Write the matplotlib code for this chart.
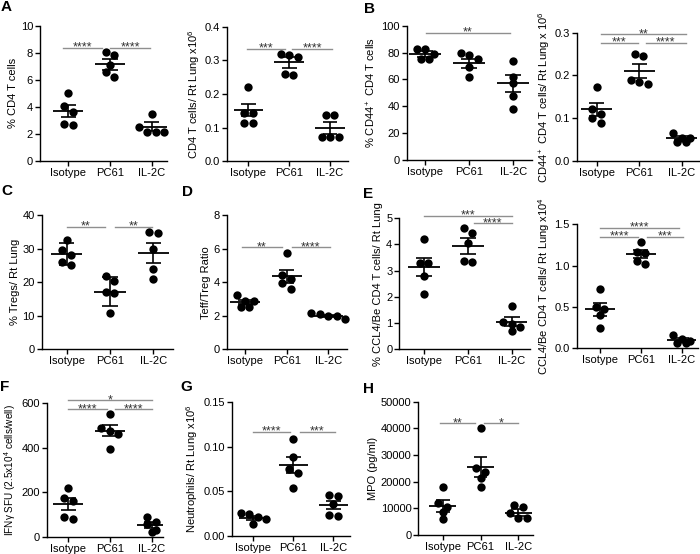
import numpy as np
import matplotlib.pyplot as plt

plt.rcParams['font.family'] = ['Liberation Sans', 'DejaVu Sans']
plt.rcParams['mathtext.fontset'] = 'custom'
plt.rcParams['mathtext.rm'] = 'Liberation Sans'
plt.rcParams['mathtext.it'] = 'Liberation Sans:italic'
plt.rcParams['mathtext.bf'] = 'Liberation Sans:bold'

groups = ['Isotype', 'PC61', 'IL-2C']

# ---- A: % CD4 T cells / CD4 T cells per lung
cd4_pct = [[5.0, 4.05, 3.65, 2.65, 2.7], [8.05, 7.85, 7.1, 6.55, 6.2], [3.5, 2.5, 2.1, 2.1, 2.1]]
cd4_pct_mean = [3.7, 7.15, 2.52]
cd4_pct_err = [0.43, 0.4, 0.35]

cd4_num = [[0.22, 0.145, 0.145, 0.115, 0.115], [0.315, 0.31, 0.318, 0.255, 0.258], [0.138, 0.138, 0.072, 0.072, 0.072]]
cd4_num_mean = [0.153, 0.294, 0.099]
cd4_num_err = [0.018, 0.017, 0.017]

# ---- B: CD44+ CD4 T cells
cd44_pct = [[83, 83, 79, 75, 75], [78.5, 79.5, 75, 69, 61.5], [74, 62, 57, 48, 38]]
cd44_pct_mean = [79.2, 72, 57]
cd44_pct_err = [2.2, 3.2, 6.5]

cd44_num = [[0.173, 0.122, 0.11, 0.09, 0.1], [0.25, 0.245, 0.19, 0.18, 0.185], [0.066, 0.053, 0.053, 0.045, 0.045]]
cd44_num_mean = [0.121, 0.21, 0.053]
cd44_num_err = [0.015, 0.016, 0.005]

# ---- C: % Tregs
treg_pct = [[32.5, 29.5, 28, 25, 26], [21.7, 20.3, 17, 16.8, 10.7], [35, 34.7, 29.8, 23.9, 20.9]]
treg_pct_mean = [28.4, 17.2, 28.7]
treg_pct_err = [3.25, 4.35, 2.9]

# ---- D: Teff/Treg ratio
ratio = [[3.23, 2.88, 2.88, 2.54, 2.54], [5.75, 4.42, 4.19, 3.93, 3.59], [2.14, 1.98, 1.81, 1.98, 2.1]]
ratio_mean = [2.8, 4.35, 2.0]
ratio_err = [0.13, 0.38, 0.05]

# ---- E: CCL4/Be CD4 T cells
ccl4_pct = [[4.2, 3.3, 3.3, 2.8, 2.1], [4.62, 4.42, 4.05, 3.35, 3.38], [1.65, 1.05, 0.95, 0.85, 0.7]]
ccl4_pct_mean = [3.13, 3.94, 1.06]
ccl4_pct_err = [0.35, 0.29, 0.17]

ccl4_num = [[0.72, 0.5, 0.47, 0.4, 0.25], [1.29, 1.15, 1.16, 1.02, 1.06], [0.16, 0.11, 0.09, 0.07, 0.07]]
ccl4_num_mean = [0.472, 1.14, 0.1]
ccl4_num_err = [0.08, 0.047, 0.025]

# ---- F: IFNg SFU
ifng = [[220, 175, 160, 80, 90], [550, 490, 475, 462, 395], [90, 68, 55, 32, 20]]
ifng_mean = [145, 476, 52]
ifng_err = [27, 25, 14]

# ---- G: neutrophils
neut = [[0.026, 0.024, 0.021, 0.019, 0.013], [0.109, 0.088, 0.075, 0.07, 0.054], [0.045, 0.046, 0.036, 0.022, 0.023]]
neut_mean = [0.02, 0.079, 0.035]
neut_err = [0.0025, 0.009, 0.0045]

# ---- H: MPO
mpo = [[18100, 11900, 10400, 8750, 5900], [40000, 25000, 23800, 21300, 17900], [11250, 10600, 8100, 6250, 6250]]
mpo_mean = [10900, 25600, 8400]
mpo_err = [2100, 3700, 1200]

W, H = 700, 554
fig = plt.figure(figsize=(7, 5.54), dpi=100)

DOT = 8.5  # dot diameter in px


def swarm(vals, ppu):
    # put near-equal values side by side, like Prism does
    order = np.argsort(vals)[::-1]
    offs = np.zeros(len(vals))
    rows = []
    for k in order:
        if rows and abs(vals[rows[-1][0]] - vals[k]) * ppu < 6.5:
            rows[-1].append(k)
        else:
            rows.append([k])
    for r in rows:
        n = len(r)
        for j, k in enumerate(r):
            offs[k] = (j - (n - 1) / 2) * DOT
    return offs


def panel(box, vals, means, errs, ymax, yticks, ylabels, ylabel, sig, lab_fs=8):
    x0, x1, yt, yb, c0, c2 = box
    ax = fig.add_axes([x0 / W, 1 - yb / H, (x1 - x0) / W, (yb - yt) / H])
    s = (c2 - c0) / 2
    ax.set_xlim(-(c0 - x0) / s, 2 + (x1 - c2) / s)
    ax.set_ylim(0, ymax)
    ppu = (yb - yt) / ymax
    for i, v in enumerate(vals):
        xs = i + swarm(np.array(v, float), ppu) / s
        ax.plot(xs, v, 'o', color='black', ms=6, mew=0, clip_on=False, zorder=3)
        m, e = means[i], errs[i]
        ax.hlines(m, i - 0.36, i + 0.36, color='black', lw=1.3, zorder=4)
        ax.vlines(i, m - e, m + e, color='black', lw=1.2, zorder=4)
        ax.hlines([m - e, m + e], i - 0.18, i + 0.18, color='black', lw=1.2, zorder=4)
    for xa, xb, y, lab in sig:
        ax.plot([xa, xb], [y, y], color='#8f8f8f', lw=1, clip_on=False)
        ax.annotate(lab, ((xa + xb) / 2, y), xytext=(0, -2.2), textcoords='offset points',
                    ha='center', va='baseline', fontsize=9, color='#333333', annotation_clip=False)
    ax.set_xticks([0, 1, 2])
    ax.set_xticklabels(groups)
    ax.set_yticks(yticks)
    ax.set_yticklabels(ylabels)
    ax.set_ylabel(ylabel, fontsize=lab_fs, labelpad=2)
    ax.tick_params(direction='out', length=3.5, width=1, labelsize=8, pad=1.5)
    for sp in ['top', 'right']:
        ax.spines[sp].set_visible(False)
    for sp in ['left', 'bottom']:
        ax.spines[sp].set_linewidth(1)
    return ax


panel((40, 167, 26, 160.7, 68.3, 151.7), cd4_pct, cd4_pct_mean, cd4_pct_err, 10,
      [0, 2, 4, 6, 8, 10], ['0', '2', '4', '6', '8', '10'], '% CD4 T cells',
      [(-0.12, 0.8, 8.4, '****'), (1.0, 1.96, 8.4, '****')])

panel((227.3, 348, 26.7, 161.3, 248.3, 330), cd4_num, cd4_num_mean, cd4_num_err, 0.4,
      [0, 0.1, 0.2, 0.3, 0.4], ['0.0', '0.1', '0.2', '0.3', '0.4'], 'CD4 T cells/ Rt Lung x10$^6$',
      [(-0.04, 0.9, 0.335, '***'), (1.08, 2.04, 0.335, '****')])

panel((406.7, 531.7, 25.7, 160, 425, 513.3), cd44_pct, cd44_pct_mean, cd44_pct_err, 100,
      [0, 20, 40, 60, 80, 100], ['0', '20', '40', '60', '80', '100'], '% CD44$^+$ CD4 T cells',
      [(0.02, 1.92, 94.8, '**')])

panel((577.3, 699.5, 32.7, 161, 596.7, 681.7), cd44_num, cd44_num_mean, cd44_num_err, 0.3,
      [0, 0.1, 0.2, 0.3], ['0.0', '0.1', '0.2', '0.3'], 'CD44$^+$ CD4 T cells/ Rt Lung x 10$^6$',
      [(0.09, 2.1, 0.296, '**'), (0.09, 0.98, 0.277, '***'), (1.16, 2.1, 0.277, '****')])

panel((41.7, 173.3, 215, 349.3, 66.7, 153.3), treg_pct, treg_pct_mean, treg_pct_err, 40,
      [0, 10, 20, 30, 40], ['0', '10', '20', '30', '40'], '% Tregs/ Rt Lung',
      [(0, 0.88, 36.5, '**'), (1.12, 1.98, 36.5, '**')])

panel((226.7, 346.7, 215, 349.3, 245, 328.3), ratio, ratio_mean, ratio_err, 8,
      [0, 2, 4, 6, 8], ['0', '2', '4', '6', '8'], 'Teff/Treg Ratio',
      [(-0.08, 0.88, 6.1, '**'), (1.12, 2.04, 6.1, '****')])

panel((399.3, 530, 218.3, 349.3, 424, 511.7), ccl4_pct, ccl4_pct_mean, ccl4_pct_err, 5,
      [0, 1, 2, 3, 4, 5], ['0', '1', '2', '3', '4', '5'], '% CCL4/Be CD4 T cells/ Rt Lung',
      [(0, 2.0, 5.1, '***'), (1.13, 2.0, 4.81, '****')])

panel((576.7, 698.3, 224.3, 348.3, 600, 681.7), ccl4_num, ccl4_num_mean, ccl4_num_err, 1.5,
      [0, 0.5, 1.0, 1.5], ['0.0', '0.5', '1.0', '1.5'], 'CCL4/Be CD4 T cells/ Rt Lung x10$^4$',
      [(0, 1.94, 1.46, '****'), (0, 0.94, 1.35, '****'), (1.14, 2.04, 1.35, '***')])

panel((46.7, 163.3, 403.3, 536.7, 68.3, 151.7), ifng, ifng_mean, ifng_err, 600,
      [0, 200, 400, 600], ['0', '200', '400', '600'], 'IFN\u03b3 SFU (2.5x10$^4$ cells/well)',
      [(0, 2, 615, '*'), (0, 0.92, 573, '****'), (1.12, 2, 573, '****')], lab_fs=7.2)

panel((231.7, 350, 402.3, 535.7, 253.3, 333.3), neut, neut_mean, neut_err, 0.15,
      [0, 0.05, 0.10, 0.15], ['0.00', '0.05', '0.10', '0.15'], 'Neutrophils/ Rt Lung x10$^6$',
      [(0, 0.92, 0.117, '****'), (1.17, 2.04, 0.117, '***')])

panel((418.3, 533.3, 401.7, 535, 442.7, 518.3), mpo, mpo_mean, mpo_err, 50000,
      [0, 10000, 20000, 30000, 40000, 50000], ['0', '10000', '20000', '30000', '40000', '50000'],
      'MPO (pg/ml)',
      [(-0.07, 0.86, 41900, '**'), (1.08, 2.0, 41900, '*')])

letters = [('A', 1, 0), ('B', 364, 2), ('C', 1, 184), ('D', 182, 185), ('E', 363, 187),
           ('F', 0, 380), ('G', 180, 380), ('H', 363, 382)]
for t, x, y in letters:
    fig.text(x / W, 1 - y / H, t, fontsize=11, fontweight='bold', ha='left', va='top')

fig.savefig('out.png', dpi=100)
